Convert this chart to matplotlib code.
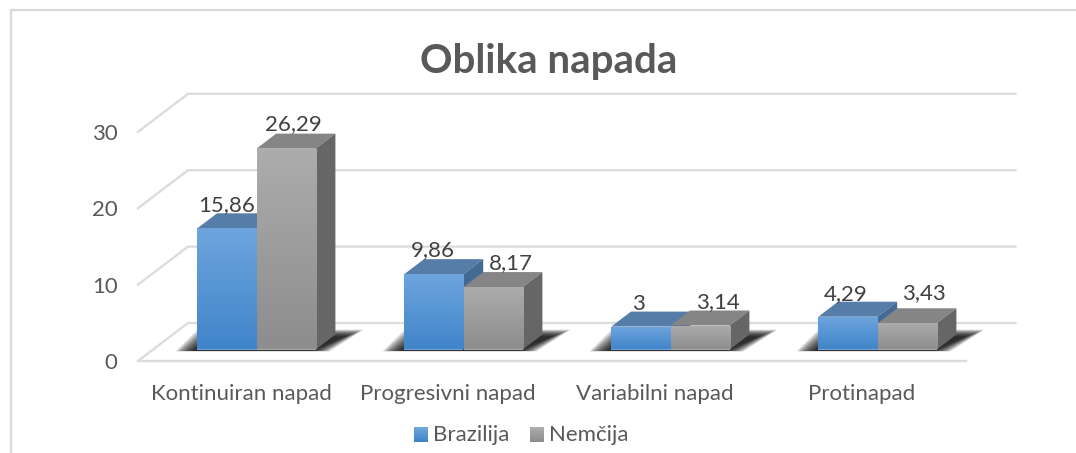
import numpy as np
import matplotlib
matplotlib.use("Agg")
import matplotlib.pyplot as plt
from matplotlib.colors import to_rgb
from matplotlib.patches import Polygon, Rectangle
from matplotlib.legend_handler import HandlerPatch

categories = ["Kontinuiran napad", "Progresivni napad", "Variabilni napad", "Protinapad"]
brazilija = [15.86, 9.86, 3, 4.29]
nemcija = [26.29, 8.17, 3.14, 3.43]
brazilija_labels = ["15,86", "9,86", "3", "4,29"]
nemcija_labels = ["26,29", "8,17", "3,14", "3,43"]
y_ticks = [0, 10, 20, 30]
title = "Oblika napada"

W, H = 1076, 453
PX_X = 207.0      # pixels per category
PX_Y = 7.64       # pixels per value unit
X0, Y0 = 256.5, 349.5   # pixel position of first group centre / bar base
BAR_W = 59.2 / PX_X
DX, DY = 19.7 / PX_X, 15.0 / PX_Y
plt.rcParams["font.family"] = ["Lato", "DejaVu Sans"]

fig = plt.figure(figsize=(W / 100, H / 100), dpi=100)
ax = fig.add_axes([0, 0, 1, 1])
ax.axis("off")
xlim = (-X0 / PX_X, (W - X0) / PX_X)
ylim = (-(H - Y0) / PX_Y, Y0 / PX_Y)

GRID = "#dcdcdc"
TXT = "#595959"
FS = 16
front_off = -11.5 / PX_Y
back_off = 26.5 / PX_Y
fl = (138 - X0) / PX_X
fr = (965.5 - X0) / PX_X
bl = (188 - X0) / PX_X
br = (1015.5 - X0) / PX_X

# wall + floor lines
for v in y_ticks:
    ax.plot([fl, bl, br], [front_off + v, back_off + v, back_off + v], color=GRID, lw=1.7, zorder=1,
            solid_joinstyle="miter")
    ax.text((117.5 - X0) / PX_X, front_off + v, str(v), ha="right", va="center_baseline", color=TXT, fontsize=FS)
ax.plot([fl, fr], [front_off, front_off], color=GRID, lw=1.7, zorder=1)


def shadow(x0, x1):
    """soft floor shadow under a bar group"""
    n = 18
    for t in np.linspace(1, 0, n):
        ex = (t * 18 - 8) / PX_X
        ey = (t * 7 - 5) / PX_Y
        bx0, bx1 = x0 - 12 / PX_X, x1 + 4 / PX_X
        tx0, tx1 = x0 + 10 / PX_X, x1 + 38 / PX_X
        yb, yt = -1.5 / PX_Y, 18 / PX_Y
        ax.add_patch(Polygon([[bx0 - ex, yb - max(ey, 0) * .2], [bx1 + ex, yb - max(ey, 0) * .2],
                              [tx1 + ex, yt + ey], [tx0 - ex, yt + ey]],
                             closed=True, fc="black", ec="none", alpha=0.085, zorder=2))


def ramp(c_top, c_bot, n):
    a, b = np.array(to_rgb(c_top)), np.array(to_rgb(c_bot))
    return [a + (b - a) * t for t in np.linspace(0, 1, n)]


def gradient(rect, c_top, c_bot, z):
    x, y = rect.get_x(), rect.get_y()
    w, h = rect.get_width(), rect.get_height()
    img = np.array(ramp(c_top, c_bot, 64))[:, None, :]
    im = ax.imshow(img, extent=[x, x + w, y, y + h], aspect="auto", origin="upper", zorder=z)
    im.set_clip_path(rect)


def box(xc, v, front, top, side, z):
    bars = ax.bar([xc], [v], width=BAR_W, color=front[0], linewidth=0, zorder=z)
    x0, x1 = xc - BAR_W / 2, xc + BAR_W / 2
    ax.add_patch(Polygon([[x0, v], [x1, v], [x1 + DX, v + DY], [x0 + DX, v + DY]], closed=True,
                         fc=top, ec="none", zorder=z))
    ax.add_patch(Polygon([[x1, 0], [x1 + DX, DY], [x1 + DX, v + DY], [x1, v]], closed=True,
                         fc=side, ec="none", zorder=z))
    gradient(bars[0], front[0], front[1], z + 0.1)


BLUE = (("#6ea5de", "#4085c9"), "#567ca8", "#446a94")
GRAY = (("#acacac", "#8d8d8d"), "#858585", "#666666")

x = np.arange(len(categories))
for i in x:
    xb, xg = i - BAR_W / 2, i + BAR_W / 2
    shadow(i - BAR_W, i + BAR_W)
    box(xb, brazilija[i], BLUE[0], BLUE[1], BLUE[2], 3)
    box(xg, nemcija[i], GRAY[0], GRAY[1], GRAY[2], 4)

# data labels (offsets in pixels from the bar's front-top centre)
off_b = [(-0.5, 25), (-1, 26), (-2, 24.5), (-2, 24.5)]
off_g = [(7, 26.5), (18, 26), (17.5, 25), (17, 32)]
for i in x:
    for xc, v, lab, o in ((i - BAR_W / 2, brazilija[i], brazilija_labels[i], off_b[i]),
                          (i + BAR_W / 2, nemcija[i], nemcija_labels[i], off_g[i])):
        ax.annotate(lab, (xc, v), xytext=(o[0] * .72, o[1] * .72), textcoords="offset points",
                    ha="center", va="center_baseline", fontsize=FS, color="#404040", zorder=6)

for i, c in zip(x, categories):
    ax.text(i + (241 - X0) / PX_X, (Y0 - 392.5) / PX_Y, c, ha="center", va="center_baseline",
            color=TXT, fontsize=FS)

ax.text((549 - X0) / PX_X, (Y0 - 58) / PX_Y, title, ha="center", va="center_baseline",
        color=TXT, fontsize=29, fontweight="bold")

# chart frame
ax.plot([(10.5 - X0) / PX_X, (10.5 - X0) / PX_X, xlim[1]],
        [ylim[0], (Y0 - 10) / PX_Y, (Y0 - 10) / PX_Y], color="#d9d9d9", lw=1.6, zorder=1)


class GradHandler(HandlerPatch):
    """legend swatch with the same vertical gradient as the bars"""

    def __init__(self, c_top, c_bot):
        super().__init__()
        self.c_top, self.c_bot = c_top, c_bot

    def create_artists(self, legend, orig, xd, yd, w, h, fs, trans):
        n = 10
        cols = ramp(self.c_top, self.c_bot, n)
        return [Rectangle((xd, yd + h * (n - 1 - k) / n), w, h / n + 0.05, transform=trans,
                          fc=cols[k], ec="none") for k in range(n)]


h1 = Rectangle((0, 0), 1, 1)
h2 = Rectangle((0, 0), 1, 1)
leg = ax.legend([h1, h2], ["Brazilija", "Nemčija"], ncol=2, frameon=False, fontsize=FS,
                loc="center", bbox_to_anchor=(521.5 / W, 1 - 435 / H), labelcolor=TXT,
                handlelength=0.62, handleheight=0.62, handletextpad=0.22, columnspacing=0.95,
                handler_map={h1: GradHandler(*BLUE[0]), h2: GradHandler(*GRAY[0])})

ax.set_xlim(*xlim)
ax.set_ylim(*ylim)
fig.savefig("out.png", dpi=100)
